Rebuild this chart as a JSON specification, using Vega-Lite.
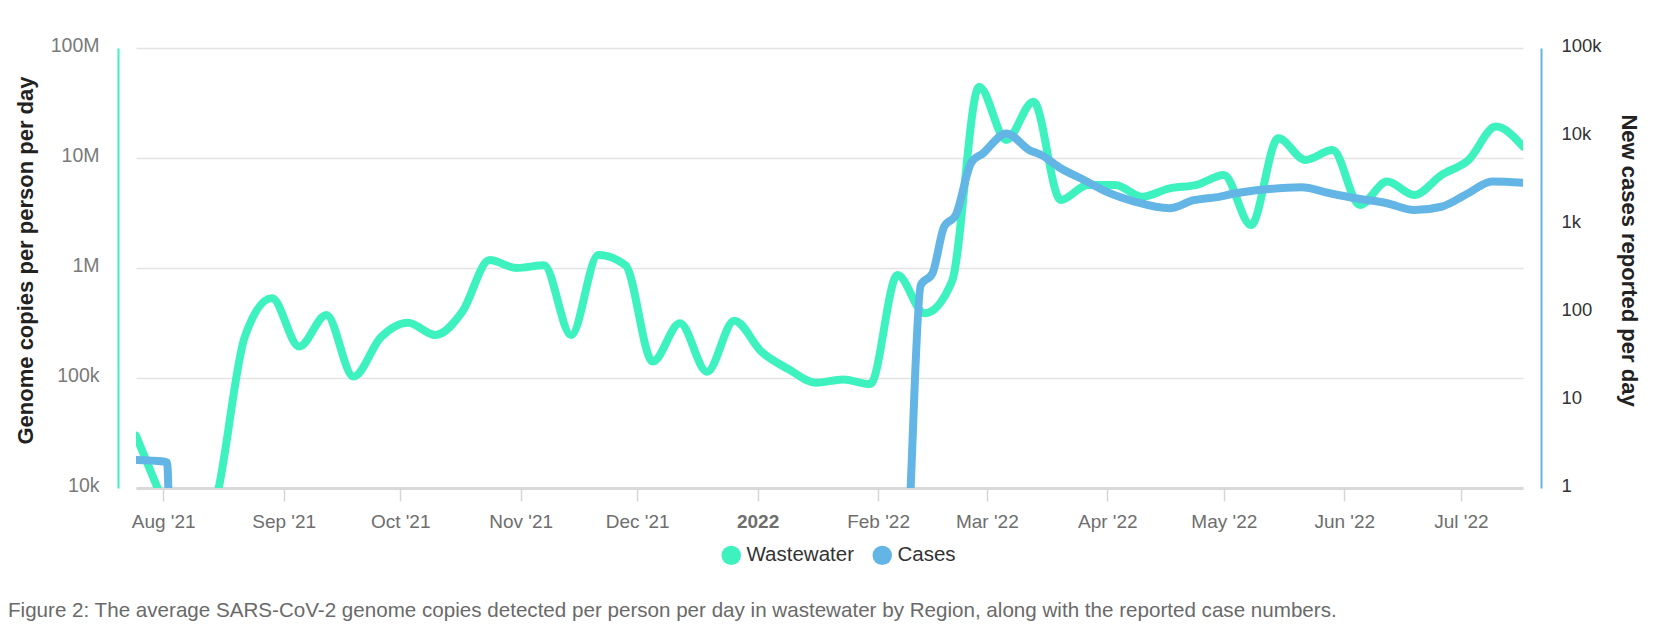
{
  "$schema": "https://vega.github.io/schema/vega-lite/v6.json",
  "width": 1387,
  "height": 440,
  "autosize": {"type": "none"},
  "padding": {"left": 136, "top": 48, "right": 149, "bottom": 151},
  "background": "white",
  "config": {"font": "Liberation Sans", "view": {"stroke": null}},
  "title": {
    "text": "Figure 2: The average SARS-CoV-2 genome copies detected per person per day in wastewater by Region, along with the reported case numbers.",
    "orient": "bottom",
    "anchor": "start",
    "frame": "group",
    "dx": -128,
    "offset": 35,
    "baseline": "top",
    "fontSize": 20.6,
    "fontWeight": "normal",
    "color": "#6a6a6a"
  },
  "datasets": {
    "wastewater": [
      {"date": "2021-07-25", "copies": 30000},
      {"date": "2021-08-01", "copies": 7500},
      {"date": "2021-08-08", "copies": 2000},
      {"date": "2021-08-15", "copies": 9000},
      {"date": "2021-08-22", "copies": 237000},
      {"date": "2021-08-29", "copies": 531000},
      {"date": "2021-09-05", "copies": 193000},
      {"date": "2021-09-12", "copies": 374000},
      {"date": "2021-09-19", "copies": 103000},
      {"date": "2021-09-26", "copies": 234000},
      {"date": "2021-10-03", "copies": 318000},
      {"date": "2021-10-10", "copies": 246000},
      {"date": "2021-10-17", "copies": 401000},
      {"date": "2021-10-24", "copies": 1180000},
      {"date": "2021-10-31", "copies": 1000000},
      {"date": "2021-11-07", "copies": 1060000},
      {"date": "2021-11-14", "copies": 246000},
      {"date": "2021-11-21", "copies": 1310000},
      {"date": "2021-11-28", "copies": 1060000},
      {"date": "2021-12-05", "copies": 141000},
      {"date": "2021-12-12", "copies": 314000},
      {"date": "2021-12-19", "copies": 114000},
      {"date": "2021-12-26", "copies": 332000},
      {"date": "2022-01-02", "copies": 173000},
      {"date": "2022-01-09", "copies": 120000},
      {"date": "2022-01-16", "copies": 90600},
      {"date": "2022-01-23", "copies": 97000},
      {"date": "2022-01-30", "copies": 88000},
      {"date": "2022-02-06", "copies": 863000},
      {"date": "2022-02-13", "copies": 387000},
      {"date": "2022-02-20", "copies": 751000},
      {"date": "2022-02-27", "copies": 44500000},
      {"date": "2022-03-06", "copies": 14600000},
      {"date": "2022-03-13", "copies": 32500000},
      {"date": "2022-03-20", "copies": 4150000},
      {"date": "2022-03-27", "copies": 5690000},
      {"date": "2022-04-03", "copies": 5690000},
      {"date": "2022-04-10", "copies": 4450000},
      {"date": "2022-04-17", "copies": 5300000},
      {"date": "2022-04-24", "copies": 5690000},
      {"date": "2022-05-01", "copies": 7000000},
      {"date": "2022-05-08", "copies": 2460000},
      {"date": "2022-05-15", "copies": 15100000},
      {"date": "2022-05-22", "copies": 9600000},
      {"date": "2022-05-29", "copies": 11800000},
      {"date": "2022-06-05", "copies": 3740000},
      {"date": "2022-06-12", "copies": 6100000},
      {"date": "2022-06-19", "copies": 4610000},
      {"date": "2022-06-26", "copies": 7000000},
      {"date": "2022-07-03", "copies": 9600000},
      {"date": "2022-07-10", "copies": 19300000},
      {"date": "2022-07-17", "copies": 12700000}
    ],
    "cases": [
      {"date": "2021-07-25", "cases": 2.08},
      {"date": "2021-08-01", "cases": 2.0},
      {"date": "2021-08-02", "cases": 1.95},
      {"date": "2021-08-03", "cases": 0.14},
      {"date": "2022-02-08", "cases": 0.14},
      {"date": "2022-02-12", "cases": 203},
      {"date": "2022-02-15", "cases": 275},
      {"date": "2022-02-18", "cases": 932},
      {"date": "2022-02-21", "cases": 1265},
      {"date": "2022-02-25", "cases": 5000},
      {"date": "2022-02-28", "cases": 6360},
      {"date": "2022-03-06", "cases": 10700},
      {"date": "2022-03-12", "cases": 6900},
      {"date": "2022-03-15", "cases": 6080},
      {"date": "2022-03-20", "cases": 4300},
      {"date": "2022-03-26", "cases": 3160},
      {"date": "2022-04-01", "cases": 2300},
      {"date": "2022-04-08", "cases": 1800},
      {"date": "2022-04-17", "cases": 1510},
      {"date": "2022-04-23", "cases": 1850},
      {"date": "2022-04-30", "cases": 2050},
      {"date": "2022-05-03", "cases": 2190},
      {"date": "2022-05-12", "cases": 2480},
      {"date": "2022-05-21", "cases": 2610},
      {"date": "2022-05-28", "cases": 2250},
      {"date": "2022-06-04", "cases": 1960},
      {"date": "2022-06-12", "cases": 1720},
      {"date": "2022-06-19", "cases": 1440},
      {"date": "2022-06-26", "cases": 1570},
      {"date": "2022-07-03", "cases": 2250},
      {"date": "2022-07-09", "cases": 3050},
      {"date": "2022-07-17", "cases": 2950}
    ]
  },
  "layer": [
    {
      "data": {"name": "wastewater"},
      "mark": {"type": "line", "interpolate": "monotone", "strokeWidth": 8, "strokeCap": "round", "strokeJoin": "round", "clip": true},
      "encoding": {
        "x": {
          "field": "date",
          "type": "temporal",
          "scale": {
            "type": "utc",
            "domain": [
              {"year": 2021, "month": 7, "date": 25, "utc": true},
              {"year": 2022, "month": 7, "date": 17, "utc": true}
            ]
          },
          "axis": {
            "title": null,
            "grid": false,
            "domain": true,
            "domainColor": "#d9d9d9",
            "domainWidth": 3,
            "ticks": true,
            "tickColor": "#d6d6d6",
            "tickWidth": 1.5,
            "tickSize": 13,
            "labelPadding": 11,
            "labelFontSize": 19,
            "labelColor": "#6e6e6e",
            "labelFontWeight": {"condition": {"test": "utcmonth(datum.value) === 0", "value": "bold"}, "value": "normal"},
            "labelExpr": "utcmonth(datum.value) === 0 ? utcFormat(datum.value, '%Y') : utcFormat(datum.value, \"%b '%y\")",
            "values": [
              {"year": 2021, "month": 8, "date": 1, "utc": true},
              {"year": 2021, "month": 9, "date": 1, "utc": true},
              {"year": 2021, "month": 10, "date": 1, "utc": true},
              {"year": 2021, "month": 11, "date": 1, "utc": true},
              {"year": 2021, "month": 12, "date": 1, "utc": true},
              {"year": 2022, "month": 1, "date": 1, "utc": true},
              {"year": 2022, "month": 2, "date": 1, "utc": true},
              {"year": 2022, "month": 3, "date": 1, "utc": true},
              {"year": 2022, "month": 4, "date": 1, "utc": true},
              {"year": 2022, "month": 5, "date": 1, "utc": true},
              {"year": 2022, "month": 6, "date": 1, "utc": true},
              {"year": 2022, "month": 7, "date": 1, "utc": true}
            ]
          }
        },
        "y": {
          "field": "copies",
          "type": "quantitative",
          "scale": {"type": "log", "domain": [10000, 100000000]},
          "axis": {
            "orient": "left",
            "title": "Genome copies per person per day",
            "titleFontSize": 22,
            "titleFontWeight": "bold",
            "titleColor": "#222222",
            "titlePadding": 13,
            "titleY": 212,
            "offset": 18,
            "domainColor": "#3ef2c0",
            "domainWidth": 2,
            "ticks": false,
            "grid": true,
            "gridColor": "#e3e3e3",
            "gridWidth": 1.5,
            "labelPadding": 19,
            "labelOffset": -3,
            "labelFontSize": 19.5,
            "labelColor": "#7a7a7a",
            "values": [10000, 100000, 1000000, 10000000, 100000000],
            "labelExpr": "datum.value >= 1000000 ? format(datum.value / 1000000, 'd') + 'M' : format(datum.value / 1000, 'd') + 'k'"
          }
        },
        "color": {
          "datum": "Wastewater",
          "scale": {"domain": ["Wastewater", "Cases"], "range": ["#3ef2c0", "#62b5e5"]},
          "legend": {
            "orient": "none",
            "legendX": 585,
            "legendY": 497,
            "direction": "horizontal",
            "title": null,
            "padding": 0,
            "symbolType": "circle",
            "symbolSize": 380,
            "symbolStrokeWidth": 0,
            "labelFontSize": 20.5,
            "labelColor": "#333333",
            "labelOffset": 5,
            "columnPadding": 18,
            "encode": {"symbols": {"update": {"fill": {"scale": "color", "field": "value"}, "opacity": {"value": 1}}}}
          }
        }
      }
    },
    {
      "data": {"name": "cases"},
      "mark": {"type": "line", "interpolate": "monotone", "strokeWidth": 8, "strokeCap": "round", "strokeJoin": "round", "clip": true},
      "encoding": {
        "x": {"field": "date", "type": "temporal"},
        "y": {
          "field": "cases",
          "type": "quantitative",
          "scale": {"type": "log", "domain": [1, 100000]},
          "axis": {
            "orient": "right",
            "title": "New cases reported per day",
            "titleFontSize": 22,
            "titleFontWeight": "bold",
            "titleColor": "#222222",
            "titlePadding": 15,
            "titleY": 212,
            "offset": 18,
            "domainColor": "#62b5e5",
            "domainWidth": 2,
            "ticks": false,
            "grid": false,
            "labelPadding": 20,
            "labelOffset": -3,
            "labelFontSize": 18.5,
            "labelColor": "#333333",
            "values": [1, 10, 100, 1000, 10000, 100000],
            "labelExpr": "datum.value >= 1000 ? format(datum.value / 1000, 'd') + 'k' : format(datum.value, 'd')"
          }
        },
        "color": {"datum": "Cases"}
      }
    }
  ],
  "resolve": {"scale": {"y": "independent"}}
}
